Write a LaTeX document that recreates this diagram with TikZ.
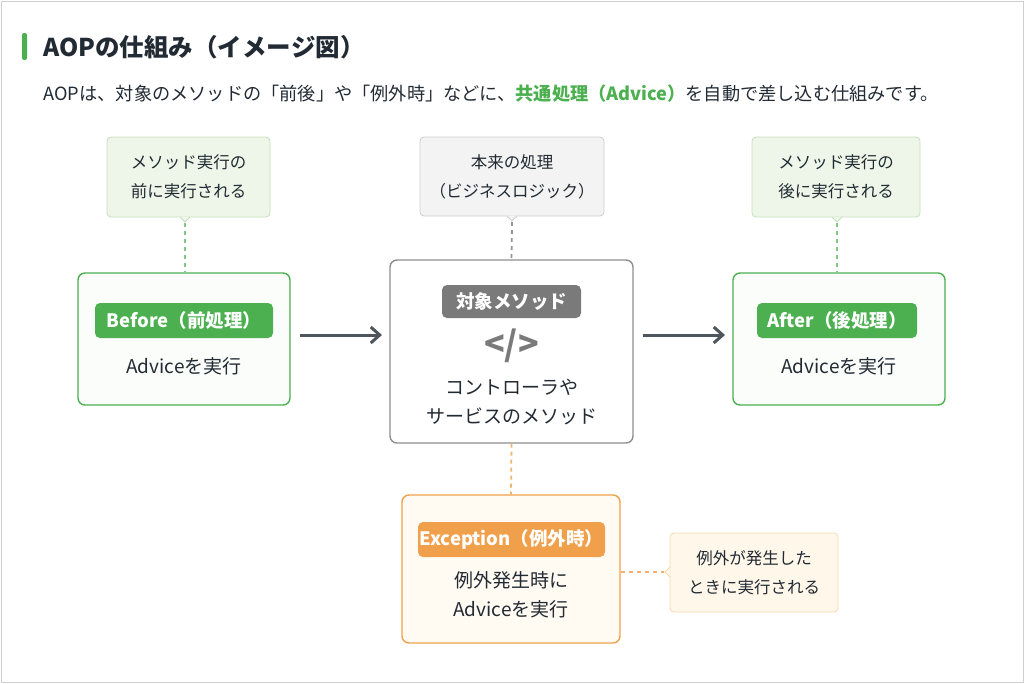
\documentclass[tikz,border=0pt]{standalone}
\usepackage{fontspec}
\setmainfont{Noto Sans CJK JP}
\usetikzlibrary{arrows.meta}
\definecolor{grn}{HTML}{4CAF50}
\definecolor{grnL}{HTML}{EEF6EA}
\definecolor{grnB}{HTML}{C5DFBC}
\definecolor{org}{HTML}{F0A04B}
\definecolor{orgL}{HTML}{FFF7EA}
\definecolor{orgB}{HTML}{F6D9B0}
\definecolor{gry}{HTML}{7A7A7A}
\definecolor{gryL}{HTML}{F3F3F3}
\definecolor{gryB}{HTML}{CFCFCF}
\definecolor{txt}{HTML}{222A33}
\begin{document}
\begin{tikzpicture}[x=1pt,y=-1pt,
 box/.style={draw, line width=1.4pt, rounded corners=7pt},
 pill/.style={rounded corners=5pt, text=white, font=\fontsize{18.5}{22}\selectfont\bfseries, inner sep=0pt},
 lab/.style={text=txt, font=\fontsize{19}{29}\selectfont, align=center},
 note/.style={rounded corners=4pt, line width=0.8pt, align=center, text=txt, font=\fontsize{16.5}{29}\selectfont},
 dsh/.style={line width=1.8pt, dash pattern=on 4pt off 4pt},
 arr/.style={line width=3pt, draw=txt!80, -{Straight Barb[length=9pt,width=16pt]}}]
\useasboundingbox (0,0) rectangle (1024,683);
\draw[gryB, line width=1pt] (1,1) rectangle (1023,682);
% title
\fill[grn, rounded corners=2pt] (22,33) rectangle (27,60);
\node[anchor=west, text=txt, font=\fontsize{24.5}{28}\selectfont\bfseries] (title) at (40,47) {AOPの仕組み（イメージ図）};
\node[anchor=west, text=txt, font=\fontsize{18.2}{22}\selectfont] (sub) at (40,94) {AOPは、対象のメソッドの「前後」や「例外時」などに、\textcolor{grn}{\bfseries 共通処理（Advice）}を自動で差し込む仕組みです。};
% before
\node[box, draw=grn, fill=grn!3, minimum width=212pt, minimum height=132pt] (bef) at (184,339) {};
\node[pill, fill=grn, minimum width=178pt, minimum height=35pt] (befp) at (184,320.5) {Before（前処理）};
\node[lab] (beft) at (184,366) {Adviceを実行};
\node[note, fill=grnL, draw=grnB, minimum width=163pt, minimum height=80pt] (befn) at (188.5,177) {メソッド実行の\\前に実行される};
\fill[grnL] (180,216.6) -- (185,222) -- (190,216.6) -- cycle;
\draw[grnB, line width=0.8pt] (180,217) -- (185,222) -- (190,217);
\coordinate (befc) at (185,223);
\draw[dsh, grn!70] (befc) -- (bef.north -| befc);
% center
\node[box, draw=gry!85, line width=1.4pt, fill=white, minimum width=243pt, minimum height=183pt] (cen) at (511.5,351.5) {};
\node[pill, fill=gry, minimum width=139pt, minimum height=33pt] (cenp) at (511.5,301.5) {対象メソッド};
\node[text=gry, font=\fontsize{34}{38}\selectfont\bfseries] (code) at (511.5,346) {</>};
\node[lab] (cent) at (511.5,402) {コントローラや\\サービスのメソッド};
\node[note, fill=gryL, draw=gryB, minimum width=184pt, minimum height=79pt] (cenn) at (512,176.5) {本来の処理\\（ビジネスロジック）};
\fill[gryL] (507,215.6) -- (512,221) -- (517,215.6) -- cycle;
\draw[gryB, line width=0.8pt] (507,216) -- (512,221) -- (517,216);
\coordinate (cenc) at (512,222);
\draw[dsh, gry!80] (cenc) -- (cen.north);
% after
\node[box, draw=grn, fill=grn!3, minimum width=212pt, minimum height=132pt] (aft) at (839,339) {};
\node[pill, fill=grn, minimum width=160pt, minimum height=35pt] (aftp) at (837,320.5) {After（後処理）};
\node[lab] (aftt) at (839,366) {Adviceを実行};
\node[note, fill=grnL, draw=grnB, minimum width=168pt, minimum height=80pt] (aftn) at (836,177) {メソッド実行の\\後に実行される};
\fill[grnL] (832,216.6) -- (837,222) -- (842,216.6) -- cycle;
\draw[grnB, line width=0.8pt] (832,217) -- (837,222) -- (842,217);
\coordinate (aftc) at (837,223);
\draw[dsh, grn!70] (aftc) -- (aft.north -| aftc);
% arrows
\draw[arr] (300,335) -- (382,335);
\draw[arr] (643,335) -- (725,335);
% exception
\node[box, draw=org, fill=orgL!60, minimum width=218pt, minimum height=148pt] (exc) at (511,569) {};
\node[pill, fill=org, minimum width=187pt, minimum height=35pt] (excp) at (511.5,539.5) {Exception（例外時）};
\node[lab] (exct) at (511,595) {例外発生時に\\Adviceを実行};
\draw[dsh, org!80] (cen.south) -- (exc.north);
\node[note, fill=orgL, draw=orgB, minimum width=168pt, minimum height=79pt] (excn) at (754,572.5) {例外が発生した\\ときに実行される};
\fill[orgL] (670.4,567) -- (665,572) -- (670.4,577) -- cycle;
\draw[orgB, line width=0.8pt] (670,567) -- (665,572) -- (670,577);
\coordinate (excc) at (664,572);
\draw[dsh, org!80] (exc.east |- excc) -- (excc);
\end{tikzpicture}
\end{document}
